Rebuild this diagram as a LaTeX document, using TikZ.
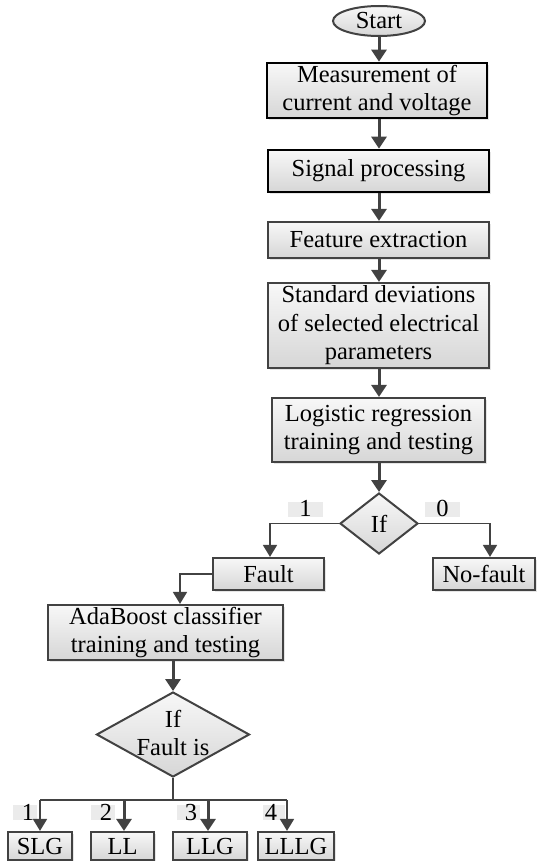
\documentclass[tikz,border=0pt]{standalone}
\usepackage{fontspec}
\setmainfont{Liberation Serif}
\usetikzlibrary{arrows.meta,shapes.geometric,shadows,calc}
\definecolor{edgegray}{HTML}{424242}
\definecolor{labbg}{HTML}{EBEBEB}
\begin{document}
\begin{tikzpicture}[x=1pt,y=-1pt,
  font=\fontsize{24.5}{28.5}\selectfont,
  boxbase/.style={rectangle, inner sep=0pt, align=center, top color=white!97!black, bottom color=black!16,
     drop shadow={shadow xshift=2pt, shadow yshift=-2pt, opacity=0.25, fill=black!40}},
  darkbox/.style={boxbase, draw=black, line width=2.6pt},
  graybox/.style={boxbase, draw=edgegray, line width=2.2pt},
  diam/.style={diamond, draw=edgegray, line width=2pt, inner sep=0pt, top color=white!97!black, bottom color=black!16},
  mainarrow/.style={draw=edgegray, line width=3pt, -{Triangle[width=15pt,length=12pt]}},
  sidearrow/.style={draw=edgegray, line width=1.8pt, -{Triangle[width=14pt,length=12pt]}},
  sideline/.style={draw=edgegray, line width=1.8pt},
  labrect/.style={fill=labbg, draw=none}
]
\useasboundingbox (0,0) rectangle (537,861);

% nodes
\node[ellipse, draw=edgegray, line width=2pt, minimum width=92pt, minimum height=30pt, inner sep=0pt,
      top color=white!97!black, bottom color=black!16] (start) at (379,21) {Start};
\node[darkbox, minimum width=220pt, minimum height=55pt] (meas) at (377,90.5) {Measurement of\\current and voltage};
\node[darkbox, minimum width=221pt, minimum height=42pt] (sig) at (378.5,171) {Signal processing};
\node[graybox, minimum width=221pt, minimum height=36pt] (feat) at (378.5,240) {Feature extraction};
\node[graybox, minimum width=221pt, minimum height=85pt] (std) at (378.5,325.5) {Standard deviations\\of selected electrical\\parameters};
\node[graybox, minimum width=213pt, minimum height=64pt] (logr) at (378.5,430) {Logistic regression\\training and testing};
\node[diam, minimum width=78pt, minimum height=61pt] (if1) at (379,523.5) {};
\node (if1t) at (if1.center) {If};
\node[graybox, minimum width=111pt, minimum height=32pt] (fault) at (268.5,574) {Fault};
\node[graybox, minimum width=102pt, minimum height=32pt] (nofault) at (484,574) {No-fault};
\node[graybox, minimum width=235pt, minimum height=55pt] (ada) at (165.5,632.5) {AdaBoost classifier\\training and testing};
\node[diam, minimum width=153pt, minimum height=85pt] (if2) at (173,734.5) {};
\node[align=center] (if2t) at (173,733) {If\\Fault is};
\node[graybox, minimum width=64pt, minimum height=28pt] (slg) at (40,846) {SLG};
\node[graybox, minimum width=63pt, minimum height=28pt] (ll) at (122.5,846) {LL};
\node[graybox, minimum width=74pt, minimum height=28pt] (llg) at (210,846) {LLG};
\node[graybox, minimum width=76pt, minimum height=28pt] (lllg) at (296,846) {LLLG};

% branch labels
\fill[labbg] (288,502) rectangle (323,517);
\node (l1) at (305.5,508) {1};
\fill[labbg] (425,502) rectangle (460,517);
\node (l0) at (442.5,508) {0};
\fill[labbg] (13,805) rectangle (37,820);
\node (b1l) at (28,812) {1};
\fill[labbg] (91,805) rectangle (115,820);
\node (b2l) at (106,812) {2};
\fill[labbg] (177,805) rectangle (200,820);
\node (b3l) at (191,812) {3};
\fill[labbg] (263,805) rectangle (285,820);
\node (b4l) at (271,812) {4};

% main connectors
\draw[mainarrow] (start) -- (start |- meas.north);
\draw[mainarrow] (meas.south -| start) -- (start |- sig.north);
\draw[mainarrow] (sig.south -| start) -- (start |- feat.north);
\draw[mainarrow] (feat.south -| start) -- (start |- std.north);
\draw[mainarrow] (std.south -| start) -- (start |- logr.north);
\draw[mainarrow] (logr.south -| start) -- (if1.north);

% side connectors
\draw[sidearrow] (if1.west) -| ([xshift=1.5pt]fault.north);
\draw[sidearrow] (if1.east) -| ([xshift=6pt]nofault.north);
\draw[sidearrow] (fault.west) -| ([xshift=14.5pt]ada.north);
\draw[mainarrow] (ada.south -| if2) -- (if2.north);

% bus
\coordinate (bus) at (173,800);
\coordinate (c1) at (40,800);
\coordinate (c2) at (124,800);
\coordinate (c3) at (208,800);
\coordinate (c4) at (287,800);
\draw[sideline] (if2.south) -- (bus);
\draw[sideline] (c1) -- (c4);
\draw[sidearrow] (c1) -- (c1 |- slg.north);
\draw[mainarrow] (c2) -- (c2 |- ll.north);
\draw[mainarrow] (c3) -- (c3 |- llg.north);
\draw[sidearrow] (c4) -- (c4 |- lllg.north);
\end{tikzpicture}
\end{document}
